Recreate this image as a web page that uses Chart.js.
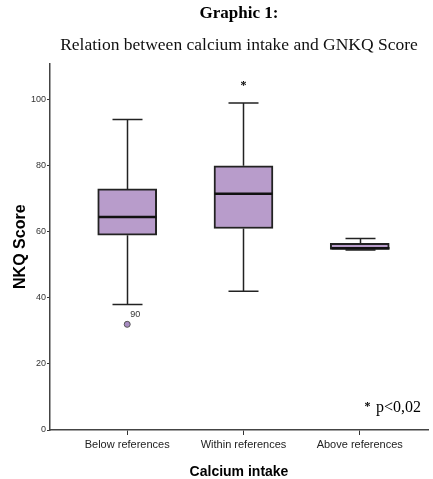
<!DOCTYPE html>
<html>
<head>
<meta charset="utf-8">
<script src="https://cdn.jsdelivr.net/npm/chart.js@4.4.1/dist/chart.umd.min.js"></script>
<style>
  html, body { margin: 0; padding: 0; background: #fff; }
  #wrap { width: 433px; height: 479px; }
</style>
</head>
<body>
<div id="wrap"><canvas id="box"></canvas></div>
<script>
// data
const categories = ['Below references', 'Within references', 'Above references'];
const whiskerLow = [38, 42, 54.5];
const q1 = [59, 61, 54.7];
const median = [64.5, 71.5, 55];
const q3 = [73, 80, 56.5];
const whiskerHigh = [94, 99, 58];
const outliers = [{ x: 1, y: 32, label: '90' }];
const starAt = { x: 2, y: 105 };
const yTicks = [0, 20, 40, 60, 80, 100];

const boxFill = '#b89ccb';
const lineCol = '#222';
const sans = "'Liberation Sans', Arial, sans-serif";
const serif = "'Liberation Serif', 'DejaVu Serif', serif";

// whiskers, medians and text notes drawn on top through the scales
const boxExtras = {
  id: 'boxExtras',
  afterDatasetsDraw(chart) {
    const { ctx, scales: { x, y } } = chart;
    ctx.save();
    ctx.strokeStyle = lineCol;
    categories.forEach((c, i) => {
      const cx = Math.round(x.getPixelForValue(i + 1)) + 0.5;
      const cap = 15;
      const half = 29;
      ctx.lineWidth = 1.5;
      ctx.beginPath();
      ctx.moveTo(cx, y.getPixelForValue(whiskerHigh[i]));
      ctx.lineTo(cx, y.getPixelForValue(q3[i]));
      ctx.moveTo(cx, y.getPixelForValue(q1[i]));
      ctx.lineTo(cx, y.getPixelForValue(whiskerLow[i]));
      ctx.moveTo(cx - cap, y.getPixelForValue(whiskerHigh[i]));
      ctx.lineTo(cx + cap, y.getPixelForValue(whiskerHigh[i]));
      ctx.moveTo(cx - cap, y.getPixelForValue(whiskerLow[i]));
      ctx.lineTo(cx + cap, y.getPixelForValue(whiskerLow[i]));
      ctx.stroke();
      ctx.lineWidth = 2.5;
      ctx.strokeStyle = '#111';
      ctx.beginPath();
      ctx.moveTo(cx - half, y.getPixelForValue(median[i]));
      ctx.lineTo(cx + half, y.getPixelForValue(median[i]));
      ctx.stroke();
      ctx.strokeStyle = lineCol;
    });
    // outlier case labels
    ctx.fillStyle = '#333';
    ctx.font = '9px ' + sans;
    ctx.textBaseline = 'middle';
    outliers.forEach(o => {
      ctx.fillText(o.label, x.getPixelForValue(o.x) + 3, y.getPixelForValue(o.y) - 10);
    });
    // significance star
    ctx.fillStyle = '#000';
    ctx.font = 'bold 12px ' + serif;
    ctx.textAlign = 'center';
    ctx.fillText('*', x.getPixelForValue(starAt.x), y.getPixelForValue(starAt.y) + 3);
    // note
    ctx.textAlign = 'left';
    ctx.font = 'bold 12px ' + serif;
    ctx.fillText('*', x.getPixelForValue(3.04), y.getPixelForValue(7.5) + 2);
    ctx.font = '16px ' + serif;
    ctx.fillText('p<0,02', x.getPixelForValue(3.14), y.getPixelForValue(6.8));
    ctx.restore();
  }
};

new Chart(document.getElementById('box'), {
  type: 'bar',
  data: {
    datasets: [
      {
        label: 'box',
        data: categories.map((c, i) => ({ x: i + 1, y: [q1[i], q3[i]] })),
        backgroundColor: boxFill,
        borderColor: lineCol,
        borderWidth: 2,
        borderSkipped: false,
        barThickness: 59,
        order: 2
      },
      {
        type: 'scatter',
        label: 'outliers',
        data: outliers.map(o => ({ x: o.x, y: o.y })),
        backgroundColor: '#a88cc2',
        borderColor: '#555',
        borderWidth: 1,
        pointRadius: 3,
        order: 1
      }
    ]
  },
  options: {
    responsive: true,
    maintainAspectRatio: false,
    animation: false,
    layout: { padding: { left: 0, right: 1, top: 0, bottom: 0 } },
    plugins: {
      legend: { display: false },
      tooltip: { enabled: false },
      title: {
        display: true,
        text: 'Graphic 1:',
        fullSize: false,
        color: '#000',
        font: { family: serif, size: 17, weight: 'bold' },
        padding: { top: 3, bottom: 12 }
      },
      subtitle: {
        display: true,
        text: 'Relation between calcium intake and GNKQ Score',
        fullSize: false,
        color: '#111',
        font: { family: serif, size: 17.5 },
        padding: { top: 0, bottom: 7 }
      }
    },
    scales: {
      x: {
        type: 'linear',
        min: 0.336,
        max: 3.587,
        offset: false,
        afterBuildTicks: s => { s.ticks = categories.map((c, i) => ({ value: i + 1 })); },
        afterFit: s => { s.height = 49; },
        ticks: {
          color: '#222',
          font: { family: sans, size: 11 },
          padding: 3,
          callback: v => categories[v - 1]
        },
        grid: { drawOnChartArea: false, offset: false, tickLength: 5, color: '#333' },
        border: { color: '#444', width: 1.5 },
        title: {
          display: true,
          text: 'Calcium intake',
          color: '#000',
          font: { family: sans, size: 14, weight: 'bold', lineHeight: 1 },
          padding: { top: 0, bottom: 0 }
        }
      },
      y: {
        min: 0,
        max: 111,
        afterBuildTicks: s => { s.ticks = yTicks.map(v => ({ value: v })); },
        afterFit: s => { s.width = 50; },
        ticks: {
          color: '#333',
          font: { family: sans, size: 9 },
          padding: 1
        },
        grid: { drawOnChartArea: false, tickLength: 3, color: '#333' },
        border: { color: '#444', width: 1.5 },
        title: {
          display: true,
          text: 'NKQ Score',
          color: '#000',
          font: { family: sans, size: 16, weight: 'bold', lineHeight: 1 },
          padding: { top: 13, bottom: 0 }
        }
      }
    }
  },
  plugins: [boxExtras]
});
</script>
</body>
</html>
